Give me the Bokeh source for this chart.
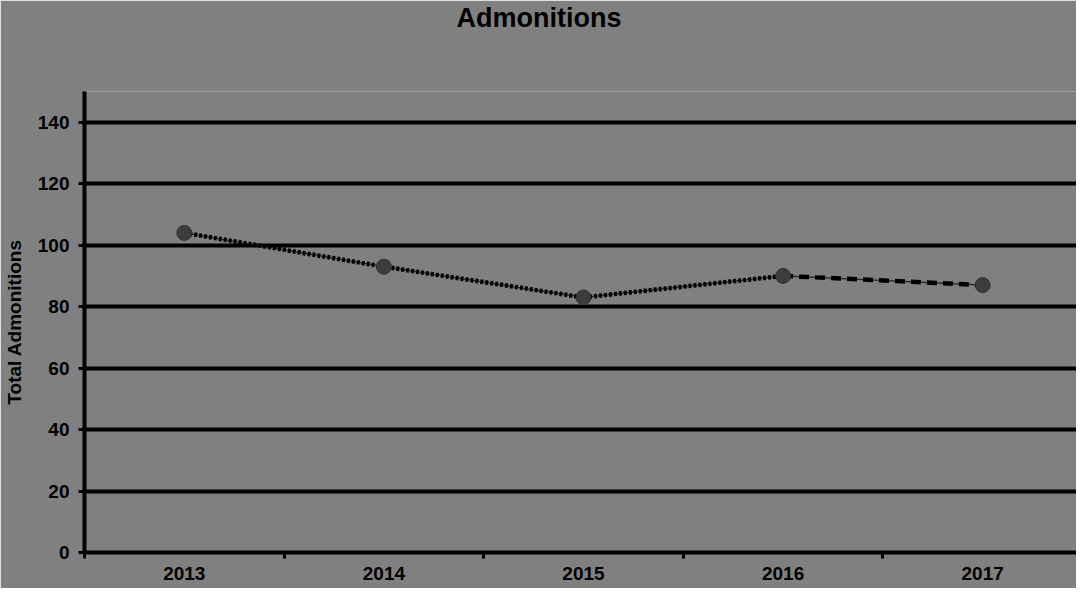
from bokeh.plotting import figure
from bokeh.models import FixedTicker, Range1d, Title
from bokeh.embed import file_html
from bokeh.resources import INLINE

years = ["2013", "2014", "2015", "2016", "2017"]
admonitions = [104, 93, 83, 90, 87]
y_ticks = [0, 20, 40, 60, 80, 100, 120, 140]

xs = [i + 0.5 for i in range(len(years))]

FONT = "Liberation Sans"

p = figure(width=1076, height=588, output_backend="svg", toolbar_location=None,
           x_range=Range1d(0, 4.97), y_range=Range1d(0, 150),
           min_border_left=70, min_border_right=0, min_border_top=90, min_border_bottom=36)
p.border_fill_color = "#808080"
p.background_fill_color = "#808080"
p.outline_line_color = None

# spacer between title and frame (added first -> nearest to frame)
spacer = Title(text=" ", standoff=46, text_font=FONT, text_font_size="10px", text_color="#808080")
p.add_layout(spacer, "above")
t = Title(text="Admonitions", align="left", offset=372, standoff=0,
          text_font=FONT, text_font_size="27px", text_font_style="bold", text_color="black")
p.add_layout(t, "above")

# x axis
p.xaxis.ticker = FixedTicker(ticks=xs, minor_ticks=list(range(len(years) + 1)))
p.xaxis.major_label_overrides = {x: y for x, y in zip(xs, years)}
p.xaxis.major_tick_line_color = None
p.xaxis.minor_tick_line_color = "black"
p.xaxis.minor_tick_line_width = 3
p.xaxis.minor_tick_in = 0
p.xaxis.minor_tick_out = 6
p.xaxis.axis_line_width = 4
p.xaxis.axis_line_color = "black"
p.xaxis.major_label_standoff = 8
p.xaxis.major_label_text_font = FONT
p.xaxis.major_label_text_font_size = "19px"
p.xaxis.major_label_text_font_style = "bold"
p.xaxis.major_label_text_color = "black"

# y axis
p.yaxis.ticker = FixedTicker(ticks=y_ticks)
p.yaxis.minor_tick_line_color = None
p.yaxis.major_tick_line_color = "black"
p.yaxis.major_tick_line_width = 3
p.yaxis.major_tick_in = 0
p.yaxis.major_tick_out = 6
p.yaxis.axis_line_width = 4
p.yaxis.axis_line_color = "black"
p.yaxis.major_label_standoff = 9
p.yaxis.major_label_text_font = FONT
p.yaxis.major_label_text_font_size = "19px"
p.yaxis.major_label_text_font_style = "bold"
p.yaxis.major_label_text_color = "black"
p.yaxis.axis_label = "Total Admonitions"
p.yaxis.axis_label_standoff = 10
p.yaxis.axis_label_text_font = FONT
p.yaxis.axis_label_text_font_size = "19px"
p.yaxis.axis_label_text_font_style = "bold"
p.yaxis.axis_label_text_color = "black"

# grid
p.xgrid.grid_line_color = None
p.ygrid.ticker = FixedTicker(ticks=y_ticks[1:] + [150])
p.ygrid.grid_line_color = "black"
p.ygrid.grid_line_width = 4

# series line: dotted then dashed last segment
p.line(xs[:4], admonitions[:4], line_color="#222222", line_width=1.2)
p.line(xs[:4], admonitions[:4], line_color="black", line_width=4.5, line_dash="3 2")
p.line(xs[3:], admonitions[3:], line_color="#222222", line_width=1.2)
p.line(xs[3:], admonitions[3:], line_color="black", line_width=4.5, line_dash="10 6")
p.scatter(xs, admonitions, size=15, fill_color="#3c3c3c", line_color="#333333", line_width=1)

open("out.html", "w").write(file_html(p, INLINE))
